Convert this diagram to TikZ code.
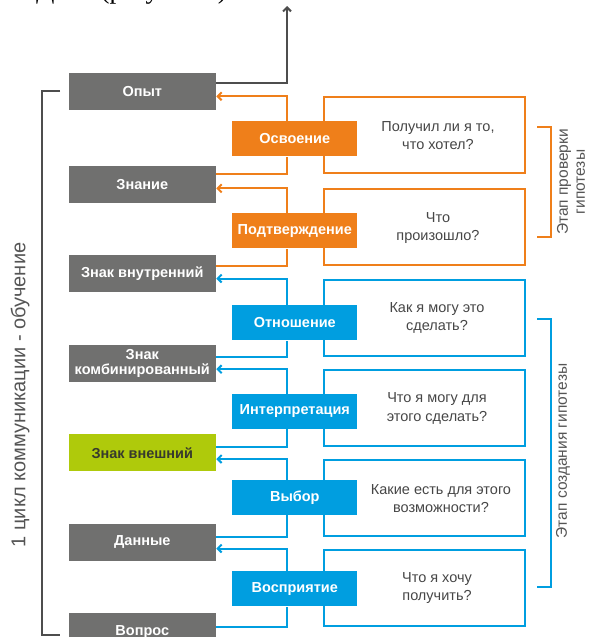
\documentclass[tikz,border=0pt]{standalone}
\usepackage{fontspec}
\setmainfont{Liberation Sans}
\newfontfamily\serifcut{Liberation Serif}
\usetikzlibrary{arrows.meta}
\definecolor{boxgrey}{RGB}{112,112,111}
\definecolor{orng}{RGB}{239,127,26}
\definecolor{blu}{RGB}{0,158,224}
\definecolor{grn}{RGB}{175,202,11}
\definecolor{darkline}{RGB}{77,77,77}
\definecolor{txtdark}{RGB}{70,70,70}
\definecolor{sidetxt}{RGB}{85,85,85}
\definecolor{greentxt}{RGB}{55,58,45}
\tikzset{
  stagebox/.style={fill=boxgrey, text=white, font=\bfseries\fontsize{14.5}{16}\selectfont,
    minimum width=147.5pt, minimum height=37pt, inner sep=0pt, align=center},
  procbox/.style={fill=#1, text=white, font=\bfseries\fontsize{14.5}{16}\selectfont,
    minimum width=125pt, minimum height=35pt, inner sep=0pt},
  qbox/.style={draw=#1, fill=white, line width=2pt, minimum width=201pt, minimum height=76pt, inner sep=0pt},
  qtext/.style={text=txtdark, font=\fontsize{14.5}{18.5}\selectfont, align=center, inner sep=0pt},
  link/.style={draw=#1, line width=2pt},
  arr/.style={-{Straight Barb[length=4pt,width=8pt]}},
  sidetext/.style={text=sidetxt, font=\fontsize{15.5}{17}\selectfont, align=center, inner sep=0pt, rotate=90}
}
\begin{document}
\begin{tikzpicture}[x=1pt,y=-1pt]
\useasboundingbox (0,0) rectangle (590,637);

% cut-off text at the top edge
\node[font=\serifcut\fontsize{27}{30}\selectfont, anchor=base west, inner sep=0pt] (toptxt) at (36,-1.5) {Дело (результат)};

% question boxes
\node[qbox=orng] (q1) at (424.5,135.3) {};
\node[qbox=orng] (q2) at (424.5,227.4) {};
\node[qbox=blu]  (q3) at (424.5,317.5) {};
\node[qbox=blu]  (q4) at (424.5,408.2) {};
\node[qbox=blu]  (q5) at (424.5,498) {};
\node[qbox=blu]  (q6) at (424.5,587.5) {};

\node[qtext] (t1) at (438,135.8) {Получил ли я то,\\что хотел?};
\node[qtext] (t2) at (438,227.8) {Что\\произошло?};
\node[qtext] (t3) at (437,318) {Как я могу это\\сделать?};
\node[qtext] (t4) at (437,408.6) {Что я могу для\\этого сделать?};
\node[qtext] (t5) at (441,498.4) {Какие есть для этого\\возможности?};
\node[qtext] (t6) at (437,588) {Что я хочу\\получить?};

% stage boxes
\node[stagebox] (g1) at (142.3,91.3) {Опыт};
\node[stagebox] (g2) at (142.3,184.3) {Знание};
\node[stagebox] (g3) at (142.3,273.7) {Знак внутренний};
\node[stagebox] (g4) at (142.3,363.3) {Знак\\[-1pt]комбинированный};
\node[stagebox, fill=grn, text=greentxt] (g5) at (142.3,452.7) {Знак внешний};
\node[stagebox] (g6) at (142.3,542.3) {Данные};
\node[stagebox] (g7) at (142.3,631.7) {Вопрос};

% process boxes
\node[procbox=orng] (p1) at (294.8,138.8) {Освоение};
\node[procbox=orng] (p2) at (294.8,230.8) {Подтверждение};
\node[procbox=blu]  (p3) at (294.8,322.8) {Отношение};
\node[procbox=blu]  (p4) at (294.8,411.2) {Интерпретация};
\node[procbox=blu]  (p5) at (294.8,497.2) {Выбор};
\node[procbox=blu]  (p6) at (294.8,588.8) {Восприятие};

% connectors
\foreach \k/\n/\c in {1/2/orng,2/3/orng,3/4/blu,4/5/blu,5/6/blu,6/7/blu}{
  \draw[link=\c] (g\n.east |- q\k.south) -| ([xshift=-7.8pt]p\k.south);
  \draw[link=\c, arr] ([xshift=-7.8pt]p\k.north) |- (g\k.east |- q\k.north);
}

% exit arrow from Опыт
\coordinate (topend) at (287,6);
\draw[link=darkline, arr] ([yshift=8.6pt]g1.east) -| (topend);

% left bracket and label
\coordinate (lb1) at (60,90.7);
\coordinate (lb2) at (60,635);
\draw[link=darkline] (lb1) -- (42,90.7) -- (42,635) -- (lb2);
\node[sidetext, font=\fontsize{20}{24}\selectfont] (lefttxt) at (20,395) {1 цикл коммуникации - обучение};

% right brackets and labels
\coordinate (ob1) at (537,127.3);
\coordinate (ob2) at (537,236.7);
\draw[link=orng] (ob1) -- (551,127.3) -- (551,236.7) -- (ob2);
\node[sidetext] (otxt) at (571,182) {Этап проверки\\гипотезы};

\coordinate (bb1) at (537,319.3);
\coordinate (bb2) at (537,586.7);
\draw[link=blu] (bb1) -- (551,319.3) -- (551,586.7) -- (bb2);
\node[sidetext] (btxt) at (563,451) {Этап создания гипотезы};
\end{tikzpicture}
\end{document}
